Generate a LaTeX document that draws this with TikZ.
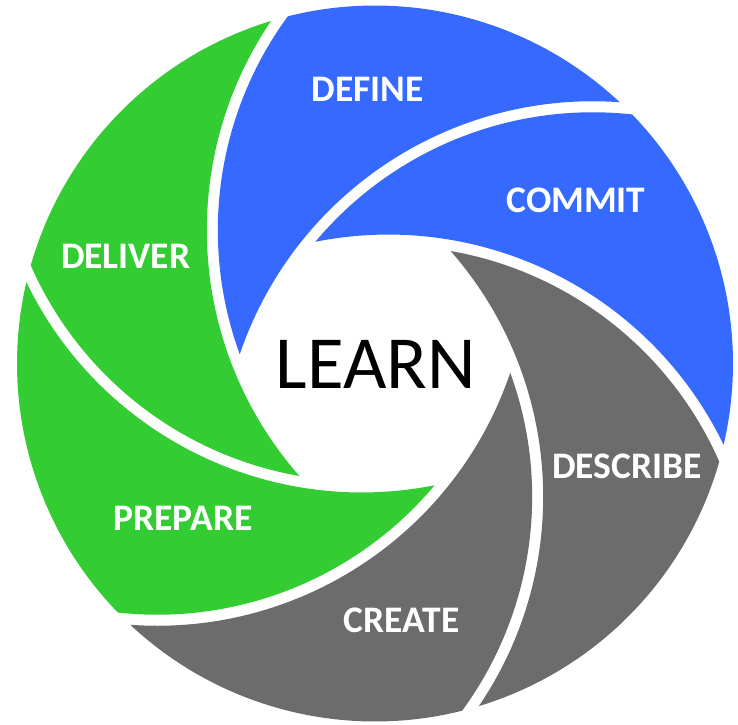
\documentclass[tikz,border=0pt]{standalone}
\usepackage{fontspec}
\setmainfont{Carlito}
\definecolor{bladeblue}{RGB}{54,105,255}
\definecolor{bladegreen}{RGB}{51,204,51}
\definecolor{bladegray}{RGB}{108,108,108}
\begin{document}
\begin{tikzpicture}[x=1pt,y=1pt,
  bladelabel/.style={text=white, font=\bfseries\fontsize{37.5}{40}\selectfont, inner sep=0pt},
  centerlabel/.style={text=black, font=\fontsize{75}{80}\selectfont, inner sep=0pt}]
\useasboundingbox (-375,-360.5) rectangle (363,363.5);
\fill[white] (-375,-360.5) rectangle (363,363.5);
% one blade, rotated six times (blade 0 = DEFINE)
\foreach \k/\c in {0/bladeblue, 1/bladeblue, 2/bladegray, 3/bladegray, 4/bladegreen, 5/bladegreen}{
  \begin{scope}[rotate=-60*\k]
    \fill[\c] (46.87:358pt)
      arc[start angle=85.84, end angle=161.27, radius=372.7pt]
      arc[start angle=200.06, end angle=143.74, radius=361.7pt]
      arc[start angle=104.09, end angle=46.87, radius=358pt] -- cycle;
  \end{scope}
}
\node[centerlabel] (learn) at (0.8,-0.5) {LEARN};
\node[bladelabel] (define) at (-7.2,274.5) {DEFINE};
\node[bladelabel] (commit) at (201,163) {COMMIT};
\node[bladelabel] (describe) at (252,-102.8) {DESCRIBE};
\node[bladelabel] (create) at (26.7,-256.5) {CREATE};
\node[bladelabel] (prepare) at (-192,-154.8) {PREPARE};
\node[bladelabel] (deliver) at (-249.3,107) {DELIVER};
\end{tikzpicture}
\end{document}
